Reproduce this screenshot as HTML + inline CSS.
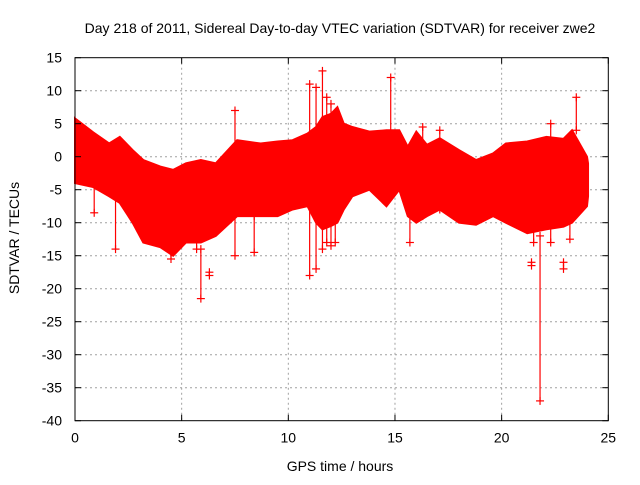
<!DOCTYPE html>
<html><head><meta charset="utf-8"><style>
body{margin:0;background:#fff;}
svg text{font-family:"Liberation Sans",sans-serif;font-size:14px;fill:#000;}
</style></head><body>
<svg width="640" height="480" xmlns="http://www.w3.org/2000/svg">
<g id="grid"></g>
<g id="data"></g>
<g id="axes"></g>
<text x="340" y="33" text-anchor="middle">Day 218 of 2011, Sidereal Day-to-day VTEC variation (SDTVAR) for receiver zwe2</text>
<text x="340" y="471" text-anchor="middle">GPS time / hours</text>
<text x="19" y="238" text-anchor="middle" transform="rotate(-90 19 238)">SDTVAR / TECUs</text>
</svg>
<script>
const xTicks=[0,5,10,15,20,25];
const yTicks=[15,10,5,0,-5,-10,-15,-20,-25,-30,-35,-40];
const hours=[0,0.85,1.6,2.1,2.7,3.2,4,4.6,5.2,5.9,6.6,7.6,8.7,9.5,10.2,10.9,11.3,11.6,12.0,12.3,12.6,13,13.8,14.6,15.2,15.6,16,16.5,17.1,18,18.8,19.6,20.2,21.2,22.1,22.9,23.3,24,24.05];
const upper=[5.8,3.7,2,3,1,-0.5,-1.5,-2,-1,-0.5,-1,2.5,2,2.3,2.5,3.5,4.5,6,6.5,7.5,5,4.5,3.8,4,4,1.5,3.8,1.8,2.8,1,-0.5,0.5,2,2.3,3,2.7,4,0,-1];
const lower=[-4,-4.6,-6,-7,-10,-13,-13.7,-15,-13,-13,-12,-9,-9,-9,-8,-7.5,-10,-11,-10.5,-10,-8,-6,-5,-7.5,-5,-9,-10,-9,-8,-10,-10.3,-9,-10,-11.6,-11,-10.6,-10,-7.5,-6];
const spikeHours=[0.9,1.9,5.9,6.3,7.5,8.4,11,11.3,11.6,11.8,12.0,12.2,14.8,15.7,21.4,21.8,22.9,23.5,16.3,17.1,4.5,5.7,21.5,22.3,23.2];
const spikeLow=[-8.5,-14,-21.5,-18,-15,-14.5,-18,-17,-14,-13,-13.5,-13,-5,-13,-16.5,-37,-17,4,-9,-8,-15.5,-14,-13,-13,-12.5];
const spikeHigh=[-4,-6,-14,-17.5,7,-9,11,10.5,13,9,8,5,12,1,-16,-12,-16,9,4.5,4,-12,-11,1,5,2];
const X=v=>75+(v/25)*533.3;
const Y=v=>156.7-v*6.6;
const NS="http://www.w3.org/2000/svg";
function mk(p,tag,a){const e=document.createElementNS(NS,tag);for(const k in a)e.setAttribute(k,a[k]);p.appendChild(e);return e;}
const grid=document.getElementById('grid'),axes=document.getElementById('axes'),data=document.getElementById('data');
xTicks.forEach(t=>{
 if(t>0&&t<25){const g=mk(grid,'line',{x1:X(t),x2:X(t),y1:Y(15),y2:Y(-40),stroke:'#a0a0a0','stroke-dasharray':'2,3'});
 
 }
 const l=mk(axes,'text',{x:X(t),y:Y(-40)+22,'text-anchor':'middle'});l.textContent=t;
 
 
 mk(axes,'line',{x1:X(t),x2:X(t),y1:Y(-40),y2:Y(-40)-6,stroke:'#000'});
 mk(axes,'line',{x1:X(t),x2:X(t),y1:Y(15),y2:Y(15)+6,stroke:'#000'});
});
yTicks.forEach(t=>{
 if(t<15&&t>-40){const g=mk(grid,'line',{x1:X(0),x2:X(25),y1:Y(t),y2:Y(t),stroke:'#a0a0a0','stroke-dasharray':'2,3'});
 
 }
 const l=mk(axes,'text',{x:X(0)-13,y:Y(t)+5,'text-anchor':'end'});l.textContent=t;
 
 
 mk(axes,'line',{x1:X(0),x2:X(0)+6,y1:Y(t),y2:Y(t),stroke:'#000'});
 mk(axes,'line',{x1:X(25),x2:X(25)-6,y1:Y(t),y2:Y(t),stroke:'#000'});
});
const fr=mk(axes,'rect',{x:X(0),y:Y(15),width:X(25)-X(0),height:Y(-40)-Y(15),fill:'none',stroke:'#000'});


let pts=hours.map((h,i)=>X(h)+','+Y(upper[i]));
for(let i=hours.length-1;i>=0;i--)pts.push(X(hours[i])+','+Y(lower[i]));
const band=mk(data,'polygon',{points:pts.join(' '),fill:'#ff0000',stroke:'#ff0000','stroke-width':2});


spikeHours.forEach((h,i)=>{
 const g=mk(data,'g',{stroke:'#ff0000','stroke-width':1.2});
 
 
 mk(g,'line',{x1:X(h),x2:X(h),y1:Y(spikeLow[i]),y2:Y(spikeHigh[i])});
 [spikeLow[i],spikeHigh[i]].forEach(v=>{
  mk(g,'line',{x1:X(h)-4,x2:X(h)+4,y1:Y(v),y2:Y(v)});
  mk(g,'line',{x1:X(h),x2:X(h),y1:Y(v)-4,y2:Y(v)+4});
 });
});
</script>
</body></html>
